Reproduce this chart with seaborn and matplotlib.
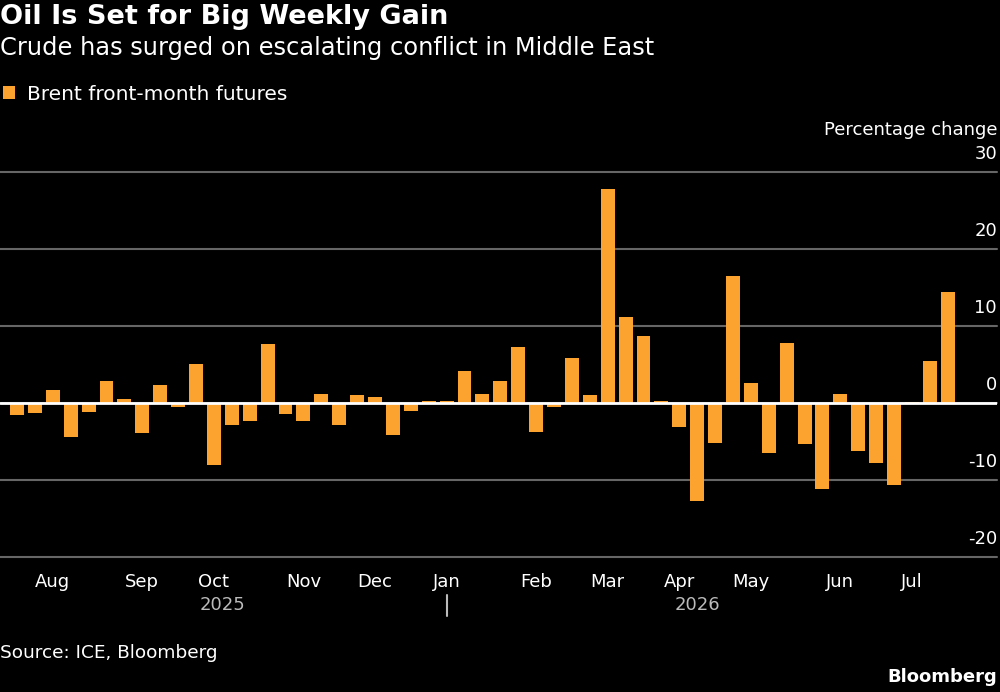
import pandas as pd
import seaborn as sns
import matplotlib.pyplot as plt

# weekly data, Fridays
week_start = '2025-07-18'
n_weeks = 53
pct_change = [
    -1.6, -1.3, 1.7, -4.5, -1.2, 2.8, 0.5, -3.9, 2.3, -0.5,
    5.1, -8.1, -2.9, -2.3, 7.6, -1.4, -2.3, 1.2, -2.9, 1.0,
    0.8, -4.2, -1.1, 0.3, 0.2, 4.2, 1.2, 2.8, 7.3, -3.8,
    -0.5, 5.8, 1.0, 27.8, 11.2, 8.7, 0.3, -3.2, -12.8, -5.2,
    16.5, 2.6, -6.5, 7.8, -5.3, -11.2, 1.1, -6.3, -7.8, -10.7,
    0.1, 5.4, 14.4,
]
yticks = [-20, -10, 0, 10, 20, 30]
series_label = 'Brent front-month futures'

BG = 'black'
ORANGE = '#FCA22E'
GRID = '#666666'

sns.set_style('dark')
plt.rcParams['font.family'] = ['DejaVu Sans']
plt.rcParams['text.color'] = 'white'

dates = pd.date_range(week_start, periods=n_weeks, freq='7D')
df = pd.DataFrame({'idx': range(n_weeks), 'date': dates, 'pct': pct_change})

fig = plt.figure(figsize=(10, 6.92), dpi=100, facecolor=BG)
ax = fig.add_axes([0.0, 0.1955, 0.997, 0.5559])
ax.set_facecolor(BG)

sns.barplot(data=df, x='idx', y='pct', color=ORANGE, saturation=1,
            width=0.78, label=series_label, ax=ax, zorder=2,
            linewidth=0, edgecolor='none')

ax.set_xlim(-0.95, 54.75)
ax.set_ylim(min(yticks), max(yticks))

# gridlines
ax.set_yticks(yticks)
ax.grid(axis='y', color=GRID, lw=1.5)
ax.grid(axis='x', visible=False)
for gl in ax.get_ygridlines():
    gl.set_clip_on(False)
ax.tick_params(axis='y', length=0, labelleft=False)
ax.axhline(0, color='white', lw=2, zorder=3)
for s in ax.spines.values():
    s.set_visible(False)

# right side labels above gridlines
ytrans = ax.get_yaxis_transform()
for v in yticks:
    ax.annotate(str(v), xy=(1.0, v), xycoords=ytrans, xytext=(0, 13),
                textcoords='offset points', ha='right', va='center',
                fontsize=13, color='white')

# month ticks at first week of each month
is_new_month = df['date'].dt.month != df['date'].dt.month.shift(1)
is_new_month.iloc[0] = False
tick_idx = df.loc[is_new_month, 'idx'].tolist()
tick_lab = df.loc[is_new_month, 'date'].dt.strftime('%b').tolist()
ax.set_xticks(tick_idx, tick_lab)
ax.tick_params(axis='x', length=7.5, width=1.3, color='#dddddd',
               labelcolor='white', labelsize=13, pad=4)
ax.set_xlabel('')
ax.set_ylabel('')

# year labels
xtrans = ax.get_xaxis_transform()
for yr, grp in df.groupby(df['date'].dt.year):
    ax.text(grp['idx'].mean(), -0.1256, str(yr), transform=xtrans,
            ha='center', va='center', fontsize=13, color='#bbbbbb')
jan_idx = df.loc[(df['date'].dt.month == 1) & is_new_month, 'idx'].iloc[0]
ax.plot([jan_idx, jan_idx], [-0.0996, -0.154], transform=xtrans,
        color='#bbbbbb', lw=1.5, clip_on=False)

# legend
if ax.get_legend():
    ax.get_legend().remove()
fig.legend(loc='center left', bbox_to_anchor=(0.003, 1 - 94 / 692),
           frameon=False, fontsize=14.5, handlelength=0.6, handleheight=0.6,
           handletextpad=0.6, borderpad=0, borderaxespad=0)

fig.text(0.0, 1 - 17 / 692, 'Oil Is Set for Big Weekly Gain', fontsize=19.5,
         fontweight='bold', va='center', ha='left')
fig.text(0.0, 1 - 48 / 692, 'Crude has surged on escalating conflict in Middle East',
         fontsize=17.4, va='center', ha='left')
fig.text(0.997, 1 - 130 / 692, 'Percentage change', fontsize=13,
         va='center', ha='right')
fig.text(0.0, 1 - 653 / 692, 'Source: ICE, Bloomberg', fontsize=13.3,
         va='center', ha='left')
fig.text(0.997, 1 - 677 / 692, 'Bloomberg', fontsize=13, fontweight='bold',
         va='center', ha='right')

fig.savefig('out.png', dpi=100, facecolor=BG)
